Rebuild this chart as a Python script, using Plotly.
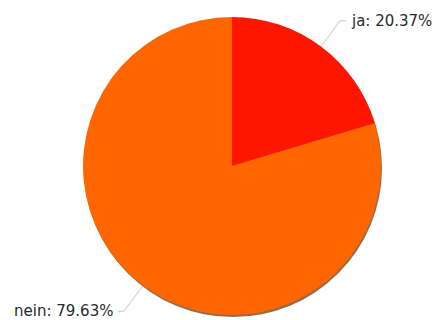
import math
import plotly.graph_objects as go

labels = ["ja", "nein"]
values = [20.37, 79.63]
colors = ["#FF1600", "#FF6600"]

W, H = 440, 320
OFF = 8  # page body margin
cx, cy, r = 232 - OFF, 166 - OFF, 149

fig = go.Figure()

# shadow pie (decoration)
fig.add_trace(go.Pie(
    values=[1], marker=dict(colors=["#9a6a48"]), textinfo="none", hoverinfo="skip",
    sort=False, showlegend=False,
    domain=dict(x=[(cx - r + 1) / W, (cx + r + 1) / W], y=[1 - (cy + r + 2) / H, 1 - (cy - r + 2) / H]),
))
fig.add_trace(go.Pie(
    labels=labels, values=values, marker=dict(colors=colors, line=dict(width=0)),
    textinfo="none", sort=False, direction="clockwise", rotation=0, showlegend=False,
    domain=dict(x=[(cx - r) / W, (cx + r) / W], y=[1 - (cy + r) / H, 1 - (cy - r) / H]),
))

total = sum(values)
cum = 0
for lab, v in zip(labels, values):
    mid = (cum + v / 2) / total * 2 * math.pi
    cum += v
    dx, dy = math.sin(mid), -math.cos(mid)
    x0, y0 = cx + (r - 2) * dx, cy + (r - 2) * dy
    ext = 32
    x1, y1 = cx + (r + ext) * dx, cy + (r + ext) * dy
    side = 1 if dx > 0 else -1
    x2 = x1 + 6 * side
    fig.add_trace(go.Scatter(x=[x0, x1, x2], y=[y0, y1, y1], mode="lines",
                             line=dict(color="#c8c8c8", width=1), hoverinfo="skip", showlegend=False))
    fig.add_annotation(x=x2 + 3 * side, y=y1, xref="x", yref="y",
                       text=f"{lab}: {v:.2f}%", showarrow=False,
                       xanchor="left" if side > 0 else "right", yanchor="middle",
                       font=dict(family="DejaVu Sans", size=15, color="#2a2a2a"))

fig.update_xaxes(range=[0, W], visible=False, fixedrange=True)
fig.update_yaxes(range=[H, 0], visible=False, fixedrange=True)
fig.update_layout(width=W, height=H, margin=dict(l=0, r=0, t=0, b=0),
                  paper_bgcolor="white", plot_bgcolor="rgba(0,0,0,0)")
fig.write_html("out.html")
